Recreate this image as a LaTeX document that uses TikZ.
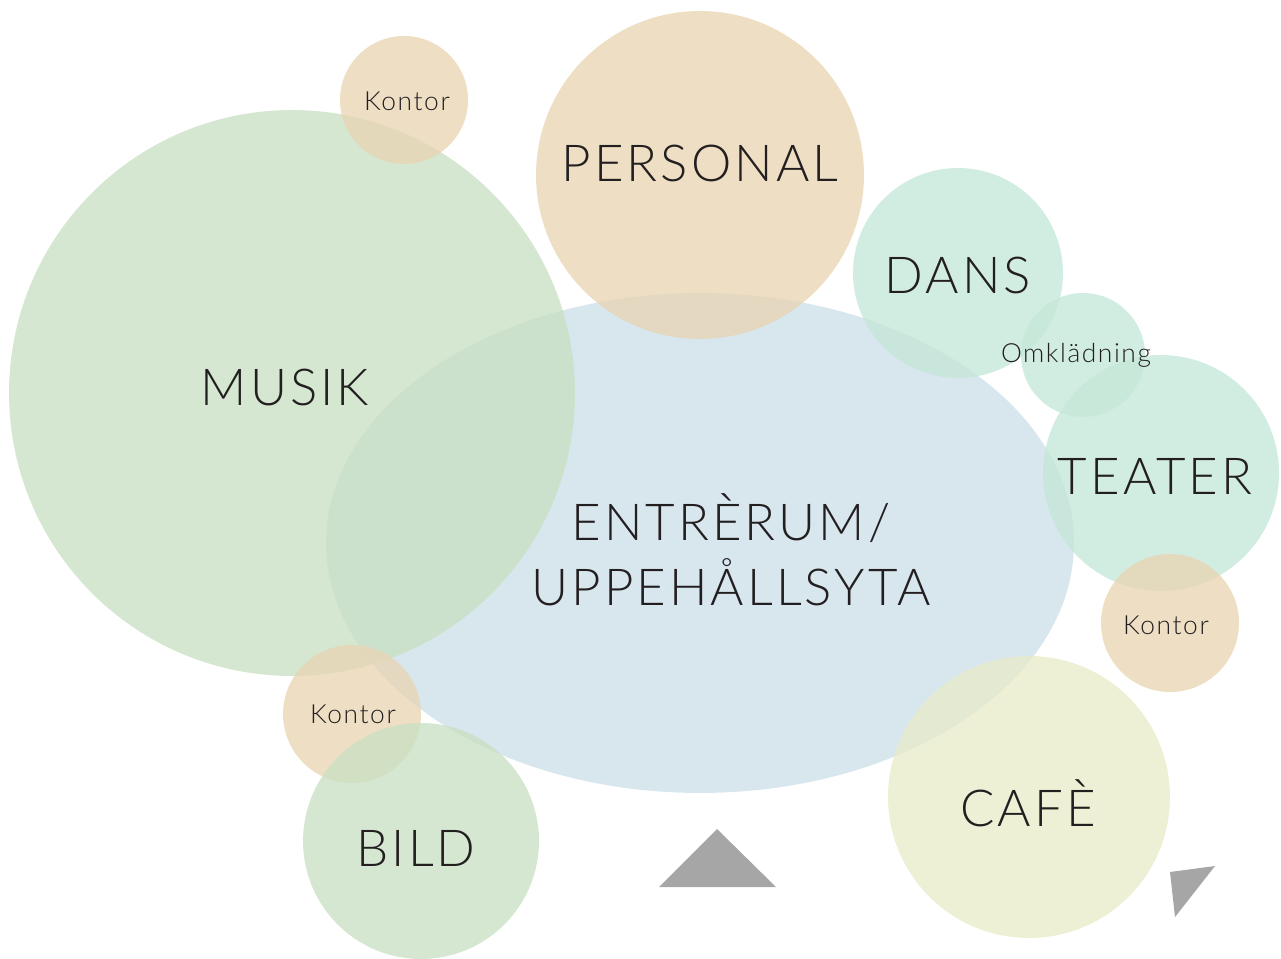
\documentclass[tikz,border=0pt]{standalone}
\usepackage{fontspec}
\setmainfont{Lato}[UprightFont=* Light, LetterSpace=6]
\usepackage{tikz}
\usetikzlibrary{shapes.geometric, positioning}
\definecolor{greenroom}{RGB}{202, 225, 196}
\definecolor{tanroom}{RGB}{232, 214, 181}
\definecolor{blueroom}{RGB}{206, 224, 234}
\definecolor{tealroom}{RGB}{198, 231, 217}
\definecolor{caferoom}{RGB}{232, 236, 202}
\definecolor{darktext}{RGB}{35, 31, 32}
\definecolor{markgray}{RGB}{166, 166, 166}

\begin{document}
\begin{tikzpicture}[
    x=0.02cm, y=-0.02cm,
    room/.style={circle, inner sep=0pt, fill opacity=0.8, draw=none},
    hall/.style={ellipse, inner sep=0pt, fill opacity=0.8, draw=none,
                 fill=blueroom},
    biglabel/.style={text=darktext, font=\fontsize{29}{37}\selectfont,
                     align=center},
    smalllabel/.style={text=darktext, font=\fontsize{15}{18}\selectfont},
    marker/.style={fill=markgray}
]
    \useasboundingbox (0,0) rectangle (1281,959);

    % rooms
    \node[hall, minimum width=14.96cm, minimum height=10cm] (entre) at (700,543) {};
    \node[room, fill=greenroom, minimum size=11.32cm] (musik) at (292,393) {};
    \node[room, fill=tanroom, minimum size=6.56cm] (personal) at (700,175) {};
    \node[room, fill=tanroom, minimum size=2.56cm] (kontorA) at (404,100) {};
    \node[room, fill=tealroom, minimum size=4.2cm] (dans) at (958,273) {};
    \node[room, fill=tealroom, minimum size=2.48cm] (omkl) at (1083,355) {};
    \node[room, fill=tealroom, minimum size=4.72cm] (teater) at (1161,473) {};
    \node[room, fill=tanroom, minimum size=2.76cm] (kontorB) at (1170,623) {};
    \node[room, fill=caferoom, minimum size=5.64cm] (cafe) at (1029,797) {};
    \node[room, fill=tanroom, minimum size=2.76cm] (kontorC) at (352,714) {};
    \node[room, fill=greenroom, minimum size=4.72cm] (bild) at (421,841) {};

    % labels
    \node[biglabel] (musikL) at (285,387) {MUSIK};
    \node[biglabel] (entreL) at (731,550) {ENTRÈRUM/\\UPPEHÅLLSYTA};
    \node[biglabel] (personalL) at (700,163) {PERSONAL};
    \node[smalllabel] (kontorAL) at (407,101) {Kontor};
    \node[biglabel] (dansL) at (958,275) {DANS};
    \node[smalllabel] (omklL) at (1076,355) {Omklädning};
    \node[biglabel] (teaterL) at (1155,476) {TEATER};
    \node[smalllabel] (kontorBL) at (1166,625) {Kontor};
    \node[biglabel] (cafeL) at (1028,803) {CAFÈ};
    \node[smalllabel] (kontorCL) at (353,714) {Kontor};
    \node[biglabel] (bildL) at (416,848) {BILD};

    % entrance markers
    \fill[marker] (659,887) -- (776,887) -- (717,829) -- cycle;
    \fill[marker] (1170,872) -- (1215,866) -- (1175,917) -- cycle;
\end{tikzpicture}
\end{document}
